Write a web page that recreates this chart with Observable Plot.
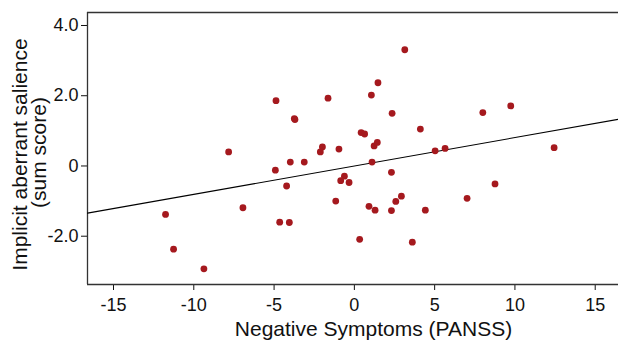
<!DOCTYPE html>
<html>
<head>
<meta charset="utf-8">
<script src="https://cdn.jsdelivr.net/npm/d3@7"></script>
<script src="https://cdn.jsdelivr.net/npm/@observablehq/plot@0.6"></script>
<style>
  html, body { margin: 0; padding: 0; background: #fff; }
  #chart { width: 618px; height: 341px; overflow: hidden; }
</style>
</head>
<body>
<div id="chart"></div>
<script>
// Negative Symptoms (PANSS) values (x) and implicit aberrant salience (y)
const negSymptoms = [
  -4.88, -1.64, -3.74, -3.70, -1.99, -2.12, -0.96, -7.83,
   3.14,  1.47,  1.06,  2.35,  8.00,  9.74,  4.11,  0.42,
   0.64,  1.23,  1.43,  5.03,  5.65, 12.44, -3.99, -3.12,
  -4.92, -4.22, -0.62, -0.85, -0.33, -1.16, -6.94, -11.76,
  -4.65, -4.05, -11.26, -9.37, 1.10,  2.31,  8.76,  7.02,
   2.93,  2.58,  0.91,  1.29,  2.31,  4.42,  0.33,  3.61
];
const salience = [
   1.86,  1.93,  1.35,  1.32,  0.54,  0.40,  0.48,  0.40,
   3.31,  2.37,  2.02,  1.50,  1.52,  1.71,  1.05,  0.95,
   0.91,  0.57,  0.67,  0.43,  0.50,  0.52,  0.11,  0.11,
  -0.12, -0.57, -0.29, -0.42, -0.47, -1.00, -1.19, -1.38,
  -1.60, -1.61, -2.37, -2.93,  0.11, -0.18, -0.51, -0.92,
  -0.86, -1.01, -1.15, -1.26, -1.27, -1.26, -2.09, -2.17
];
const xTicks = [-15, -10, -5, 0, 5, 10, 15];
const yTicks = [-2, 0, 2, 4];
const xDomain = [-16.62, 16.45];
const yDomain = [-3.375, 4.37];
const xLabel = "Negative Symptoms (PANSS)";
const yLabelLine1 = "Implicit aberrant salience";
const yLabelLine2 = "(sum score)";

const points = negSymptoms.map((x, i) => ({x, y: salience[i]}));

// ordinary least squares fit, drawn across the whole x range
const mx = d3.mean(negSymptoms), my = d3.mean(salience);
const slope = d3.sum(points, p => (p.x - mx) * (p.y - my)) / d3.sum(points, p => (p.x - mx) ** 2);
const intercept = my - slope * mx;
const fitLine = xDomain.map(x => ({x, y: intercept + slope * x}));

const font = "'Liberation Sans', Arial, Helvetica, sans-serif";
const frameColor = "#333";

const chart = Plot.plot({
  width: 618,
  height: 341,
  marginLeft: 87,
  marginRight: 0,
  marginTop: 12,
  marginBottom: 57,
  style: {fontFamily: font, fontSize: "18px", color: "#111", background: "#fff", overflow: "visible"},
  x: {
    domain: xDomain,
    ticks: xTicks,
    tickSize: 6,
    tickPadding: 8,
    tickFormat: d => String(d),
    label: null
  },
  y: {
    domain: yDomain,
    ticks: yTicks,
    tickSize: 6,
    tickPadding: 3,
    tickFormat: d => d === 0 ? "0" : d.toFixed(1),
    label: null
  },
  marks: [
    Plot.ruleY([yDomain[1]], {stroke: frameColor, strokeWidth: 1.3}),
    Plot.ruleY([yDomain[0]], {stroke: frameColor, strokeWidth: 1.3}),
    Plot.ruleX([xDomain[0]], {stroke: frameColor, strokeWidth: 1.3}),
    Plot.line(fitLine, {x: "x", y: "y", stroke: "#000", strokeWidth: 1.1}),
    Plot.dot(points, {x: "x", y: "y", r: 3.4, fill: "#a5191e", stroke: "none"}),
    Plot.text([xLabel], {
      text: d => d, frameAnchor: "bottom", lineAnchor: "bottom", textAnchor: "middle",
      dx: 20.5, dy: 51.5, fontSize: 21, fill: "#111", fontFamily: font
    }),
    Plot.text([yLabelLine1], {
      text: d => d, frameAnchor: "left", rotate: -90, lineAnchor: "bottom", textAnchor: "middle",
      dx: -60.5, dy: 6, fontSize: 21, fill: "#111", fontFamily: font
    }),
    Plot.text([yLabelLine2], {
      text: d => d, frameAnchor: "left", rotate: -90, lineAnchor: "bottom", textAnchor: "middle",
      dx: -42, dy: 4, fontSize: 21, fill: "#111", fontFamily: font
    })
  ]
});
document.getElementById("chart").appendChild(chart);
</script>
</body>
</html>
